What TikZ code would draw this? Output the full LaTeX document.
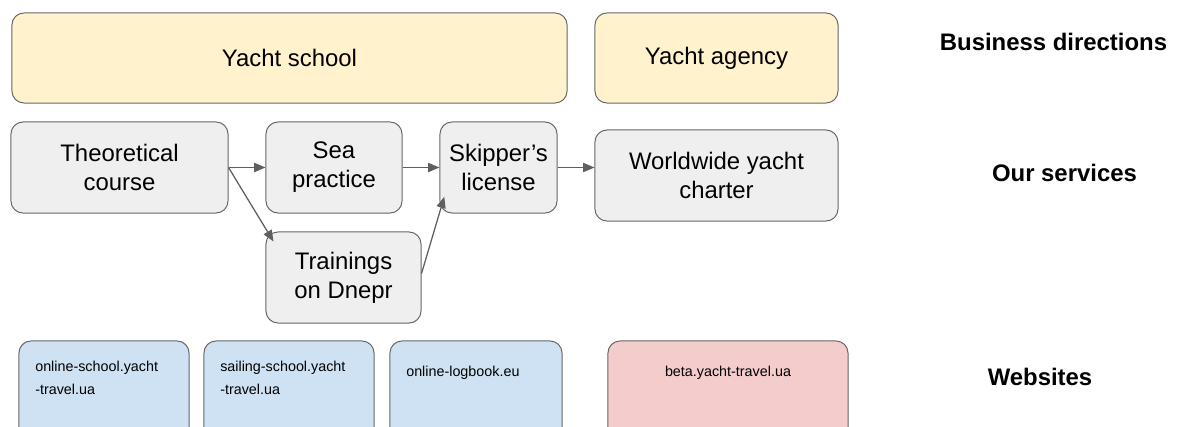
\documentclass[tikz,border=0pt]{standalone}
\usepackage{fontspec}
\setmainfont{Liberation Sans}
\usetikzlibrary{arrows.meta}
\definecolor{edgegray}{HTML}{666666}
\definecolor{arrowgray}{HTML}{5F5F5F}
\definecolor{dirfill}{HTML}{FFF2CC}
\definecolor{servfill}{HTML}{EFEFEF}
\definecolor{sitefill}{HTML}{CFE2F3}
\definecolor{betafill}{HTML}{F4CCCC}
\begin{document}
\begin{tikzpicture}[x=0.025cm,y=-0.025cm,
  box/.style={draw=edgegray,line width=0.7pt,rounded corners=0.3cm,inner sep=0pt,
    align=center,font=\fontsize{17}{20.6}\selectfont},
  dirbox/.style={box,fill=dirfill,minimum height=2.25cm},
  servbox/.style={box,fill=servfill,minimum height=2.275cm},
  sitebox/.style={box,fill=sitefill,minimum height=2.5cm},
  sitetext/.style={align=left,inner sep=0pt,font=\fontsize{10.2}{16.5}\selectfont},
  rowlabel/.style={font=\fontsize{17}{19.8}\selectfont\bfseries,inner sep=0pt},
  conn/.style={draw=arrowgray,line width=0.9pt,-{Triangle[length=8pt,width=6.5pt]}}]
  \useasboundingbox (0,0) rectangle (1178,427);
  \clip (0,0) rectangle (1178,427);
  % business directions
  \node[dirbox,minimum width=13.875cm] (school) at (289.5,58) {Yacht school};
  \node[dirbox,minimum width=6.075cm] (agency) at (716.5,58) {Yacht agency};
  % services
  \node[servbox,minimum width=5.425cm] (theory) at (119.5,167.5) {Theoretical\\course};
  \node[servbox,minimum width=3.4cm] (sea) at (334,167.5) {Sea\\practice};
  \node[servbox,minimum width=2.925cm] (skipper) at (498.5,167.5) {Skipper’s\\license};
  \node[servbox,minimum width=6.075cm] (charter) at (716.5,175.5) {Worldwide yacht\\charter};
  \node[servbox,minimum width=3.875cm] (dnepr) at (343.5,277.5) {Trainings\\on Dnepr};
  \draw[conn] (theory.east) -- (sea.west);
  \draw[conn] (theory.east) -- ([xshift=0.2cm,yshift=-0.25cm]dnepr.north west);
  \draw[conn] (sea.east) -- (skipper.west);
  \draw[conn] ([yshift=0.1cm]dnepr.east) -- ([xshift=0.12cm,yshift=0.42cm]skipper.south west);
  \draw[conn] (skipper.east) -- (skipper.east -| charter.west);
  % websites
  \node[sitebox,minimum width=4.25cm] (oschool) at (104,391) {};
  \node[sitebox,minimum width=4.25cm] (sschool) at (289,391) {};
  \node[sitebox,minimum width=4.3cm] (logbook) at (476,391) {};
  \node[sitebox,fill=betafill,minimum width=6cm] (beta) at (728,391) {};
  \node[sitetext,anchor=west] (oschooltxt) at (35,378) {online-school.yacht\\-travel.ua};
  \node[sitetext,anchor=west] (sschooltxt) at (220,378) {sailing-school.yacht\\-travel.ua};
  \node[sitetext,anchor=west] (logbooktxt) at (406,373) {online-logbook.eu};
  \node[sitetext] (betatxt) at (728,373) {beta.yacht-travel.ua};
  % row labels
  \node[rowlabel] (dirlabel) at (1053.5,42) {Business directions};
  \node[rowlabel] (servlabel) at (1064.5,173) {Our services};
  \node[rowlabel] (sitelabel) at (1040,377) {Websites};
\end{tikzpicture}
\end{document}
